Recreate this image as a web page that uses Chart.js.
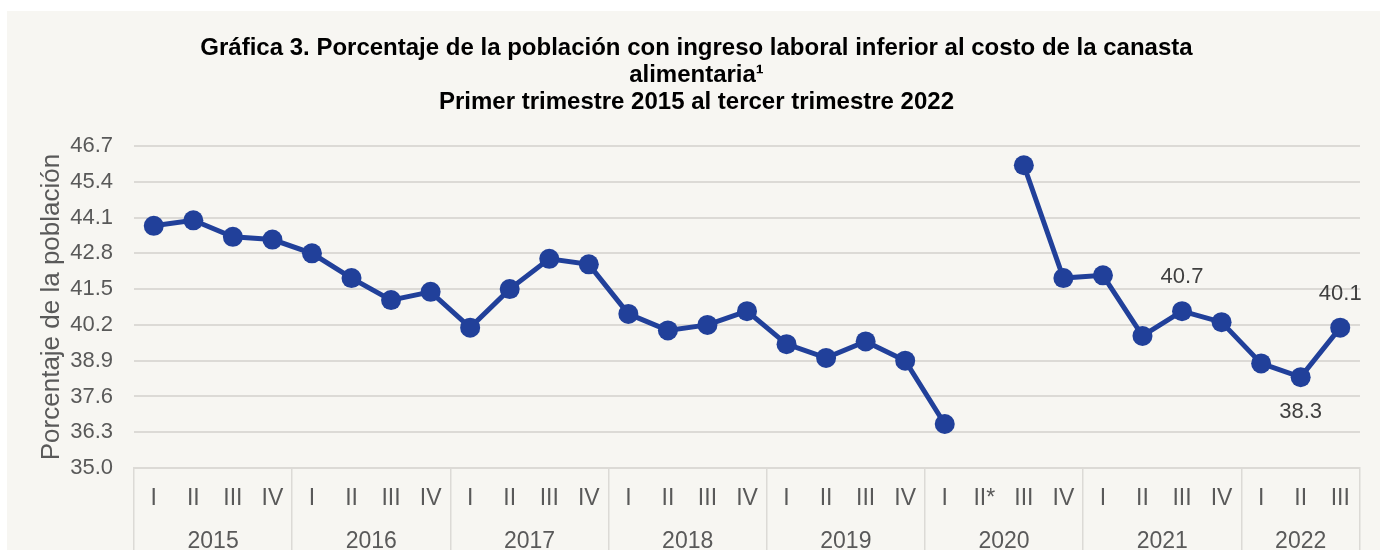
<!DOCTYPE html>
<html>
<head>
<meta charset="utf-8">
<script src="https://cdn.jsdelivr.net/npm/chart.js@4/dist/chart.umd.min.js"></script>
<style>
  body { margin: 0; background: #ffffff; }
  .panel { position: absolute; left: 7px; top: 11px; width: 1373px; height: 539px; background: #f7f6f2; }
</style>
</head>
<body>
<div class="panel"><canvas id="chart"></canvas></div>
<script>
// Data
const quarterLabels = ['I', 'II', 'III', 'IV', 'I', 'II', 'III', 'IV', 'I', 'II', 'III', 'IV',
    'I', 'II', 'III', 'IV', 'I', 'II', 'III', 'IV', 'I', 'II*', 'III', 'IV',
    'I', 'II', 'III', 'IV', 'I', 'II', 'III'];
const yearLabels = ['2015', '2016', '2017', '2018', '2019', '2020', '2021', '2022'];
const quartersPerYear = [4, 4, 4, 4, 4, 4, 4, 3];
const values = [43.8, 44.0, 43.4, 43.3, 42.8, 41.9, 41.1, 41.4, 40.1, 41.5, 42.6, 42.4,
    40.6, 40.0, 40.2, 40.7, 39.5, 39.0, 39.6, 38.9, 36.6, null, 46.0, 41.9,
    42.0, 39.8, 40.7, 40.3, 38.8, 38.3, 40.1];
const yTicks = [35.0, 36.3, 37.6, 38.9, 40.2, 41.5, 42.8, 44.1, 45.4, 46.7];
// points that carry a value label, and on which side
const labelIndex = [26, 29, 30];
const labelSide = ['above', 'below', 'above'];

const blue = '#21409a';
const grey = '#595959';
const gridGrey = '#dcdad6';

// year group boundaries and centres on the quarter index scale
const yearStarts = [];
const yearCentres = [];
let pos = 0;
quartersPerYear.forEach(n => {
    yearStarts.push(pos);
    yearCentres.push(pos + (n - 1) / 2);
    pos += n;
});

Chart.defaults.font.family = "'Liberation Sans', Arial, sans-serif";

const pointLabels = {
    id: 'pointLabels',
    afterDatasetsDraw(chart) {
        const meta = chart.getDatasetMeta(0);
        const ctx = chart.ctx;
        ctx.save();
        ctx.font = "22px 'Liberation Sans', Arial, sans-serif";
        ctx.fillStyle = '#404040';
        ctx.textAlign = 'center';
        ctx.textBaseline = 'middle';
        labelIndex.forEach((idx, k) => {
            const el = meta.data[idx];
            const dy = labelSide[k] === 'below' ? 35 : -34;
            ctx.fillText(values[idx].toFixed(1), el.x, el.y + dy);
        });
        ctx.restore();
    }
};

const ctx = document.getElementById('chart').getContext('2d');
new Chart(ctx, {
    type: 'line',
    data: {
        labels: quarterLabels,
        datasets: [{
            data: values,
            borderColor: blue,
            backgroundColor: blue,
            borderWidth: 5,
            pointRadius: 10,
            pointHoverRadius: 10,
            pointBorderWidth: 0,
            pointBackgroundColor: blue,
            tension: 0,
            spanGaps: false
        }]
    },
    options: {
        responsive: true,
        maintainAspectRatio: false,
        animation: false,
        layout: { padding: { left: 26, right: 20, top: 0, bottom: 0 } },
        plugins: {
            legend: { display: false },
            tooltip: { enabled: false },
            title: {
                display: true,
                text: ['Gráfica 3. Porcentaje de la población con ingreso laboral inferior al costo de la canasta',
                    'alimentaria¹',
                    'Primer trimestre 2015 al tercer trimestre 2022'],
                color: '#000000',
                font: { size: 24, weight: 'bold', lineHeight: 1.125 },
                padding: { top: 24, bottom: 30 }
            }
        },
        scales: {
            x: {
                offset: true,
                weight: 0,
                grid: {
                    offset: true,
                    drawOnChartArea: false,
                    tickLength: 100,
                    lineWidth: 1.5,
                    color: c => (c.index === undefined || yearStarts.includes(c.index)) ? gridGrey : 'rgba(0,0,0,0)'
                },
                border: { display: true, color: gridGrey, width: 2 },
                afterFit: s => { s.height = 42; },
                ticks: {
                    color: grey,
                    font: { size: 23 },
                    padding: -83,
                    autoSkip: false,
                    maxRotation: 0
                }
            },
            years: {
                type: 'linear',
                position: 'bottom',
                weight: 1,
                min: -0.5,
                max: quarterLabels.length - 0.5,
                grid: { display: false, drawTicks: false },
                border: { display: false },
                afterBuildTicks: s => { s.ticks = yearCentres.map(v => ({ value: v })); },
                afterFit: s => { s.height = 40; },
                ticks: {
                    color: grey,
                    font: { size: 23 },
                    padding: 18,
                    autoSkip: false,
                    maxRotation: 0,
                    callback: (v, i) => yearLabels[i]
                }
            },
            y: {
                min: yTicks[0],
                max: yTicks[yTicks.length - 1],
                afterBuildTicks: s => { s.ticks = yTicks.map(v => ({ value: v })); },
                afterFit: s => { s.width = 101; },
                grid: { color: gridGrey, lineWidth: 2, drawTicks: false },
                border: { display: false },
                ticks: {
                    color: grey,
                    font: { size: 22 },
                    padding: 21,
                    callback: v => v.toFixed(1)
                },
                title: {
                    display: true,
                    text: 'Porcentaje de la población',
                    color: grey,
                    font: { size: 26 },
                    padding: { top: 3, bottom: 0 }
                }
            }
        }
    },
    plugins: [pointLabels]
});
</script>
</body>
</html>
